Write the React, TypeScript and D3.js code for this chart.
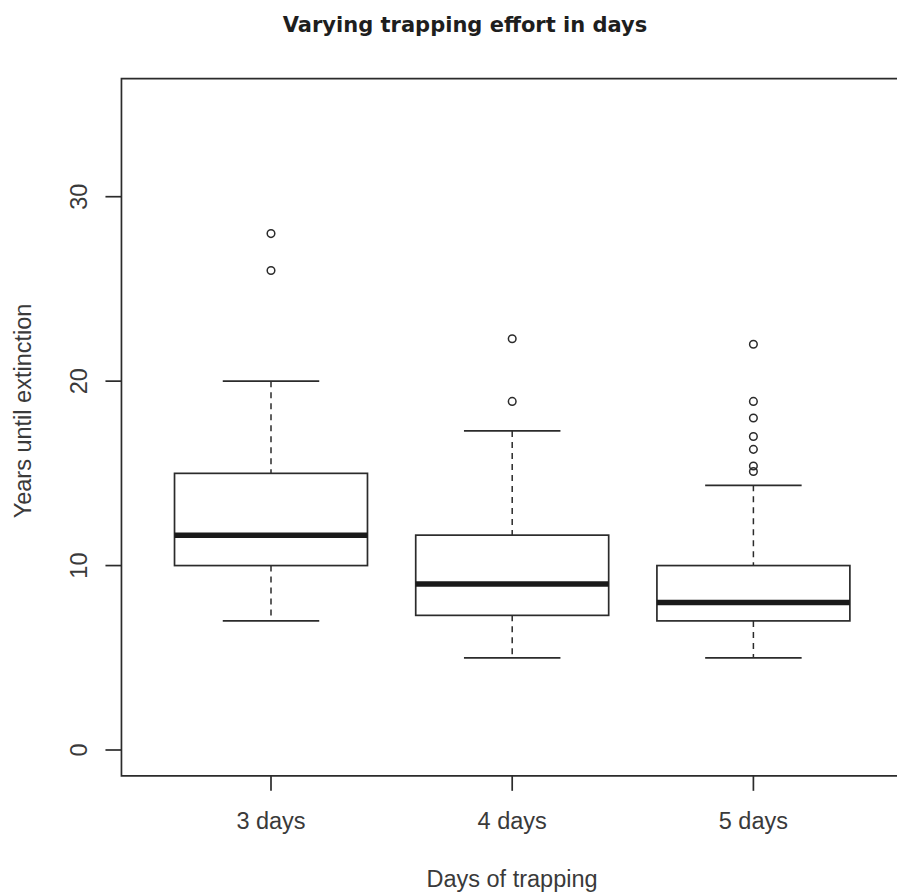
import React from "react";
import * as d3 from "d3";

const WIDTH = 897;
const HEIGHT = 893;
const CATEGORIES = ["3 days", "4 days", "5 days"];
const LOWER_WHISKER = [7, 5, 5];
const Q1 = [10, 7.3, 7];
const MEDIAN = [11.65, 9, 8];
const Q3 = [15, 11.65, 10];
const UPPER_WHISKER = [20, 17.3, 14.35];
const OUTLIERS = [
  [26, 28],
  [18.9, 22.3],
  [15.1, 15.4, 16.3, 17, 18, 18.9, 22],
];
const Y_TICKS = [0, 10, 20, 30];
const TITLE = "Varying trapping effort in days";
const X_TITLE = "Days of trapping";
const Y_TITLE = "Years until extinction";

// R style ranges: 4% padding around [0.5, 3.5] and [0, 35]
const X_DOMAIN = [0.38, 3.62];
const Y_DOMAIN = [-1.4, 36.4];
const X_SCALE = d3.scaleLinear().domain([1, 3]).range([271, 753.4]);
const Y_SCALE = d3.scaleLinear().domain([0, 30]).range([750, 196.7]);
const BOX_HALF = 0.4;
const STAPLE_HALF = 0.2;
const INK = "#2b2b2b";
const TEXT = "#3a3a3a";
const AXIS_FONT = "'Liberation Sans', Arial, sans-serif";
const AXIS_SIZE = 23.5;

export default function App() {
  const left = X_SCALE(X_DOMAIN[0]);
  const right = X_SCALE(X_DOMAIN[1]);
  const top = Y_SCALE(Y_DOMAIN[1]);
  const bottom = Y_SCALE(Y_DOMAIN[0]);
  const boxW = X_SCALE(1 + BOX_HALF) - X_SCALE(1);
  const stapleW = X_SCALE(1 + STAPLE_HALF) - X_SCALE(1);

  // the right side of the frame falls just outside the picture
  const frame = d3.path();
  frame.moveTo(right, top);
  frame.lineTo(left, top);
  frame.lineTo(left, bottom);
  frame.lineTo(right, bottom);

  return (
    <svg
      width={WIDTH}
      height={HEIGHT}
      style={{
        position: "absolute",
        left: 0,
        top: 0,
        background: "#fff",
        overflow: "hidden",
      }}
    >
      <rect width={WIDTH} height={HEIGHT} fill="#fff" />
      {/* title */}
      <text
        x={465}
        y={32}
        textAnchor="middle"
        fontFamily="'DejaVu Sans', Verdana, sans-serif"
        fontWeight="bold"
        fontSize={21}
        fill="#1e1e1e"
      >
        {TITLE}
      </text>

      {/* boxes */}
      {CATEGORIES.map((c, i) => {
        const cx = X_SCALE(i + 1);
        return (
          <g key={c} stroke={INK} fill="none">
            <line
              x1={cx}
              x2={cx}
              y1={Y_SCALE(UPPER_WHISKER[i])}
              y2={Y_SCALE(Q3[i])}
              strokeWidth={1.5}
              strokeDasharray="6,5"
            />
            <line
              x1={cx}
              x2={cx}
              y1={Y_SCALE(Q1[i])}
              y2={Y_SCALE(LOWER_WHISKER[i])}
              strokeWidth={1.5}
              strokeDasharray="6,5"
            />
            <line
              x1={cx - stapleW}
              x2={cx + stapleW}
              y1={Y_SCALE(UPPER_WHISKER[i])}
              y2={Y_SCALE(UPPER_WHISKER[i])}
              strokeWidth={1.7}
            />
            <line
              x1={cx - stapleW}
              x2={cx + stapleW}
              y1={Y_SCALE(LOWER_WHISKER[i])}
              y2={Y_SCALE(LOWER_WHISKER[i])}
              strokeWidth={1.7}
            />
            <rect
              x={cx - boxW}
              y={Y_SCALE(Q3[i])}
              width={boxW * 2}
              height={Y_SCALE(Q1[i]) - Y_SCALE(Q3[i])}
              fill="#fff"
              strokeWidth={1.7}
            />
            <line
              x1={cx - boxW}
              x2={cx + boxW}
              y1={Y_SCALE(MEDIAN[i])}
              y2={Y_SCALE(MEDIAN[i])}
              stroke="#1a1a1a"
              strokeWidth={5.5}
            />
            {OUTLIERS[i].map((v, j) => (
              <circle
                key={j}
                cx={cx}
                cy={Y_SCALE(v)}
                r={3.8}
                strokeWidth={1.5}
              />
            ))}
          </g>
        );
      })}

      {/* frame */}
      <path
        d={frame.toString()}
        fill="none"
        stroke={INK}
        strokeWidth={1.7}
      />

      {/* y axis */}
      <g fontFamily={AXIS_FONT} fontSize={AXIS_SIZE} fill={TEXT}>
        {Y_TICKS.map((t) => (
          <g key={t}>
            <line
              x1={left - 16}
              x2={left}
              y1={Y_SCALE(t)}
              y2={Y_SCALE(t)}
              stroke={INK}
              strokeWidth={1.7}
            />
            <text
              transform={`translate(87,${Y_SCALE(t)}) rotate(-90)`}
              textAnchor="middle"
            >
              {t}
            </text>
          </g>
        ))}
        <text
          transform={`translate(31,411) rotate(-90)`}
          textAnchor="middle"
        >
          {Y_TITLE}
        </text>
      </g>

      {/* x axis */}
      <g fontFamily={AXIS_FONT} fontSize={AXIS_SIZE} fill={TEXT}>
        {CATEGORIES.map((c, i) => (
          <g key={c}>
            <line
              x1={X_SCALE(i + 1)}
              x2={X_SCALE(i + 1)}
              y1={bottom}
              y2={bottom + 15}
              stroke={INK}
              strokeWidth={1.7}
            />
            <text x={X_SCALE(i + 1)} y={829} textAnchor="middle">
              {c}
            </text>
          </g>
        ))}
        <text x={512} y={887} textAnchor="middle">
          {X_TITLE}
        </text>
      </g>
    </svg>
  );
}
